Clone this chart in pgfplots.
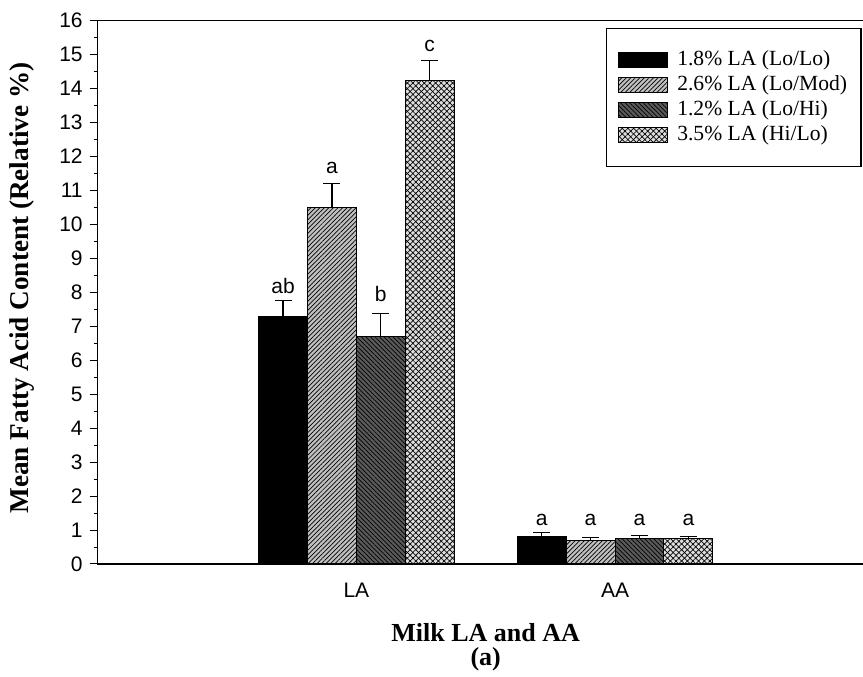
\documentclass[border=0pt]{standalone}
\usepackage{fontspec}
\setmainfont{Liberation Serif}
\newfontfamily\arial{Liberation Sans}
\usepackage{pgfplots}
\pgfplotsset{compat=1.18}
\usetikzlibrary{patterns.meta,calc}

\definecolor{hatchgray}{RGB}{192,192,192}
\definecolor{darkbar}{RGB}{90,90,90}
\definecolor{crossgray}{RGB}{222,222,222}

\begin{document}
\begin{tikzpicture}
\begin{axis}[
  scale only axis,
  width=388pt, height=271.65pt,
  xmin=-1, xmax=2, ymin=0, ymax=16,
  axis line style={line width=0.65pt},
  ybar=0pt, bar width=0.189,
  xtick={0,1}, xticklabels={LA,AA},
  x tick style={draw=none},
  xticklabel style={yshift=-2pt},
  ytick={0,1,...,16},
  minor y tick num=1,
  ytick pos=left,
  tick align=outside,
  major tick length=4pt, minor tick length=2pt,
  y tick style={line width=0.5pt, black},
  tick label style={font=\arial\fontsize{10.5}{12}\selectfont},
  /pgf/number format/assume math mode=true,
  xlabel={Milk LA and AA\\(a)},
  xlabel style={at={(axis description cs:0.5,0)}, anchor=north, yshift=-26pt,
    align=center, font=\bfseries\fontsize{13}{12}\selectfont},
  ylabel={Mean Fatty Acid Content (Relative \%)},
  ylabel style={at={(axis description cs:-0.0975,0.508)}, anchor=center,
    font=\bfseries\fontsize{13.6}{15}\selectfont},
  legend style={at={(rel axis cs:0.9845,0.9866)}, anchor=north east,
    draw=black, line width=0.6pt, fill=white,
    font=\fontsize{10.8}{12}\selectfont,
    inner xsep=6pt, inner ysep=9.5pt,
    nodes={inner sep=1pt, text height=8pt, text depth=2.5pt},
    row sep=0pt, cells={anchor=west}},
  legend image code/.code={\draw[#1,line width=0.5pt] (0pt,-3.75pt) rectangle (24.5pt,3.75pt);
    \path (28pt,0pt);},
  every axis plot/.append style={draw=black, line width=0.5pt,
    error bars/y dir=plus, error bars/y explicit,
    error bars/error bar style={line width=0.6pt, black},
    error bars/error mark options={rotate=90, mark size=4.25pt, line width=0.6pt, black}},
]
\addplot[fill=black] coordinates {(0,7.28) +- (0,0.47) (1,0.80) +- (0,0.12)};
\addlegendentry{1.8\% LA (Lo/Lo)}
\addplot[fill=hatchgray, postaction={pattern={Lines[angle=45,distance=1.6pt,line width=0.35pt]}, pattern color=black}]
  coordinates {(0,10.50) +- (0,0.71) (1,0.69) +- (0,0.08)};
\addlegendentry{2.6\% LA (Lo/Mod)}
\addplot[fill=darkbar, postaction={pattern={Lines[angle=-45,distance=1.6pt,line width=0.35pt]}, pattern color=black}]
  coordinates {(0,6.71) +- (0,0.67) (1,0.74) +- (0,0.11)};
\addlegendentry{1.2\% LA (Lo/Hi)}
\addplot[fill=crossgray,
  postaction={pattern={Lines[angle=45,distance=2pt,line width=0.35pt]}, pattern color=black},
  postaction={pattern={Lines[angle=-45,distance=2pt,line width=0.35pt]}, pattern color=black}]
  coordinates {(0,14.23) +- (0,0.60) (1,0.74) +- (0,0.06)};
\addlegendentry{3.5\% LA (Hi/Lo)}
\begin{scope}[every node/.style={anchor=base, inner sep=0pt, font=\arial\fontsize{10.5}{12}\selectfont}]
\node at (axis cs:-0.2835,7.98) {ab};
\node at (axis cs:-0.0945,11.50) {a};
\node at (axis cs:0.0945,7.72) {b};
\node at (axis cs:0.2835,15.08) {c};
\node at (axis cs:0.7165,1.12) {a};
\node at (axis cs:0.9055,1.12) {a};
\node at (axis cs:1.0945,1.12) {a};
\node at (axis cs:1.2835,1.12) {a};
\end{scope}
\end{axis}
\pgfresetboundingbox
\useasboundingbox ($(current axis.south west)+(-48.85pt,-56.5pt)$) rectangle ($(current axis.north west)+(382.65pt,10.35pt)$);
\end{tikzpicture}
\end{document}
